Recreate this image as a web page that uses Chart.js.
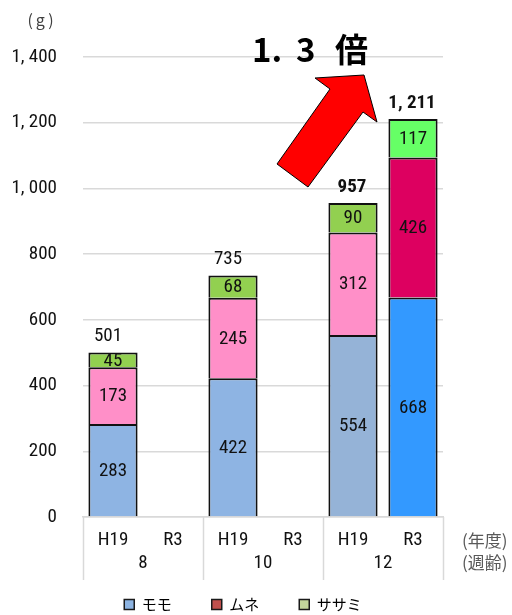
<!DOCTYPE html>
<html>
<head>
<meta charset="utf-8">
<script src="https://cdn.jsdelivr.net/npm/chart.js@4"></script>
<style>
  html, body { margin: 0; padding: 0; background: #fff; }
  #wrap { width: 512px; height: 615px; }
</style>
</head>
<body>
<div id="wrap"><canvas id="chart" width="512" height="615"></canvas></div>
<script>
// data
const years = ['H19', 'R3', 'H19', 'R3', 'H19', 'R3'];
const weeks = ['8', '10', '12'];
const momo = [283, null, 422, null, 554, 668];
const mune = [173, null, 245, null, 312, 426];
const sasami = [45, null, 68, null, 90, 117];
const totals = [501, null, 735, null, 957, 1211]; // as printed (rounded)
const seriesNames = ['モモ', 'ムネ', 'ササミ'];
const yTickLabels = ['0', '200', '400', '600', '800', '1, 000', '1, 200', '1, 400'];
const ratioParts = ['1.', '3', '倍'];

// colours (per bar: H19 / R3)
const momoColors = ['#8EB4E3', '#3399FF', '#8EB4E3', '#3399FF', '#95B3D7', '#3399FF'];
const muneColors = ['#FF8FC8', '#DD0060', '#FF8FC8', '#DD0060', '#FF8FC8', '#DD0060'];
const sasamiColors = ['#92D050', '#66FF66', '#92D050', '#66FF66', '#92D050', '#66FF66'];
const legendColors = ['#8DB4E2', '#C0504D', '#C3D69B'];

const numFont = "'Roboto Condensed', 'DejaVu Sans', sans-serif";
const jpFont = "'Noto Sans CJK JP', sans-serif";
Chart.defaults.font.family = numFont;
Chart.defaults.color = '#111';

function fmt(v) {
    return v.toLocaleString('en-US').replace(/,/g, ', ');
}

// numbers in and above the bars
const barLabels = {
    id: 'barLabels',
    afterDatasetsDraw(chart) {
        const ctx = chart.ctx;
        ctx.save();
        ctx.textAlign = 'center';
        ctx.textBaseline = 'middle';
        ctx.fillStyle = '#111';
        ctx.font = '19px ' + numFont;
        const tops = [];
        chart.data.datasets.forEach((ds, di) => {
            const meta = chart.getDatasetMeta(di);
            meta.data.forEach((el, i) => {
                if (ds.data[i] == null) return;
                ctx.fillText(String(ds.data[i]), el.x, (el.y + el.base) / 2 + 1);
                tops[i] = el;
            });
        });
        tops.forEach((el, i) => {
            if (!el || totals[i] == null) return;
            const bold = i >= 4;
            ctx.font = (bold ? 'bold ' : '') + '19px ' + numFont;
            ctx.fillText(fmt(totals[i]), el.x - (bold ? 1 : 5), el.y - 16);
        });
        ctx.restore();
    }
};

// axis box, unit labels, arrow and ratio text
const extras = {
    id: 'extras',
    afterDraw(chart) {
        const ctx = chart.ctx;
        const x2 = chart.scales.x2;
        const area = chart.chartArea;
        ctx.save();

        // group divider lines under the plot
        const step = x2.getPixelForValue(1) - x2.getPixelForValue(0);
        ctx.strokeStyle = '#D9D9D9';
        ctx.lineWidth = 1.5;
        for (let i = 0; i <= weeks.length; i++) {
            const px = Math.round(x2.getPixelForValue(0) - step / 2 + i * step) + 0.5;
            ctx.beginPath();
            ctx.moveTo(px, area.bottom);
            ctx.lineTo(px, x2.bottom - 7);
            ctx.stroke();
        }

        // unit labels
        ctx.fillStyle = '#404040';
        ctx.textBaseline = 'middle';
        ctx.textAlign = 'center';
        ctx.font = '16px ' + jpFont;
        ctx.letterSpacing = '3px';
        ctx.fillText('(g)', 42, 20);
        ctx.letterSpacing = '0px';
        ctx.textAlign = 'left';
        ctx.font = '17px ' + jpFont;
        ctx.fillStyle = '#595959';
        ctx.fillText('(年度)', 462, 541);
        ctx.fillText('(週齢)', 462, 563);

        // red arrow
        ctx.beginPath();
        ctx.moveTo(277, 164);
        ctx.lineTo(330, 89);
        ctx.lineTo(315, 78);
        ctx.lineTo(364, 75);
        ctx.lineTo(377, 122);
        ctx.lineTo(363, 112);
        ctx.lineTo(308, 187);
        ctx.closePath();
        ctx.fillStyle = '#FF0000';
        ctx.fill();
        ctx.strokeStyle = '#000';
        ctx.lineWidth = 1;
        ctx.stroke();

        // ratio text
        ctx.fillStyle = '#000';
        ctx.textBaseline = 'alphabetic';
        ctx.textAlign = 'left';
        ctx.font = 'bold 33px ' + jpFont;
        ctx.fillText(ratioParts[0], 252, 62);
        ctx.fillText(ratioParts[1], 296, 62);
        ctx.fillText(ratioParts[2], 335, 62);
        ctx.restore();
    }
};

const ctx = document.getElementById('chart').getContext('2d');
const chart = new Chart(ctx, {
    type: 'bar',
    data: {
        labels: years,
        datasets: [
            { label: seriesNames[0], data: momo, backgroundColor: momoColors },
            { label: seriesNames[1], data: mune, backgroundColor: muneColors },
            { label: seriesNames[2], data: sasami, backgroundColor: sasamiColors }
        ]
    },
    options: {
        responsive: false,
        animation: false,
        layout: { padding: { top: 57, right: 26, bottom: 0, left: 0 } },
        datasets: {
            bar: {
                borderColor: '#111',
                borderWidth: 2,
                borderSkipped: 'start',
                categoryPercentage: 1,
                barPercentage: 0.82
            }
        },
        plugins: {
            tooltip: { enabled: false },
            legend: {
                position: 'bottom',
                maxHeight: 28,
                labels: {
                    boxWidth: 10,
                    boxHeight: 10,
                    padding: 10,
                    color: '#595959',
                    font: { size: 15, family: jpFont },
                    generateLabels: () => seriesNames.map((n, i) => ({
                        text: i < seriesNames.length - 1 ? n + '\u3000\u3000' : n,
                        fillStyle: legendColors[i],
                        strokeStyle: '#1a1a1a',
                        lineWidth: 1.5,
                        datasetIndex: i
                    }))
                }
            }
        },
        scales: {
            x: {
                stacked: true,
                grid: { display: false, drawTicks: false },
                border: { display: true, color: '#D9D9D9', width: 1.5 },
                ticks: { padding: 12, font: { size: 19 }, color: '#111' },
                afterFit: s => { s.height = 33; }
            },
            x2: {
                type: 'category',
                labels: weeks,
                position: 'bottom',
                offset: true,
                grid: { display: false, drawTicks: false },
                border: { display: false },
                ticks: { padding: 2, font: { size: 19 }, color: '#111' },
                afterFit: s => { s.height = 37; }
            },
            y: {
                stacked: true,
                min: 0,
                max: 1400,
                grid: { color: '#D9D9D9', lineWidth: 1.5, drawTicks: false },
                border: { display: false },
                ticks: {
                    stepSize: 200,
                    padding: 26,
                    font: { size: 19 },
                    color: '#111',
                    callback: (v, i) => yTickLabels[i]
                },
                afterFit: s => { s.width = 83; }
            },
            y2: {
                position: 'right',
                grid: { display: false, drawTicks: false },
                border: { display: false },
                ticks: { display: false },
                afterFit: s => { s.width = 43; }
            }
        }
    },
    plugins: [barLabels, extras]
});
</script>
</body>
</html>
